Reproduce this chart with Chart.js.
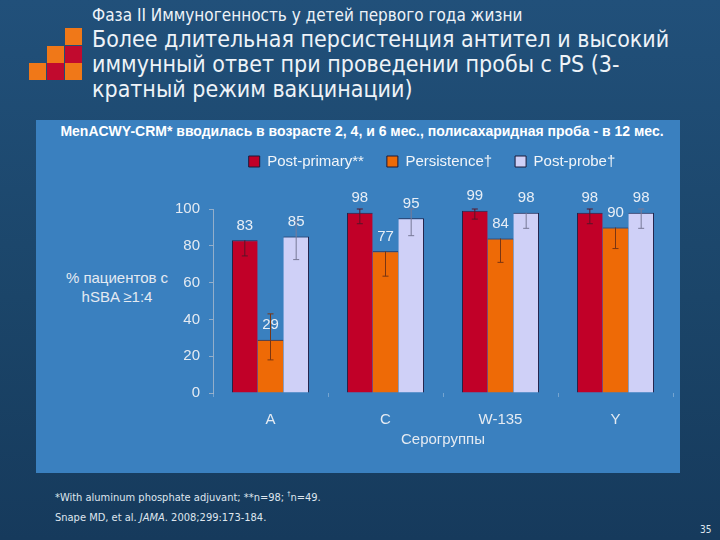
<!DOCTYPE html>
<html lang="ru">
<head>
    <meta charset="UTF-8">
    <title>Иммуногенность у детей первого года жизни</title>
    <style>
        html, body {
            margin: 0;
            padding: 0;
        }
        body {
            width: 720px;
            height: 540px;
            overflow: hidden;
            position: relative;
            background: linear-gradient(to bottom, #21507a 0%, #1b4569 55%, #163a5c 100%);
            font-family: Arial, "Liberation Sans", sans-serif;
            color: #f2f5f9;
        }
        .sq {
            position: absolute;
            width: 17px;
            height: 17px;
        }
        .or { background-color: #f07818; }
        .rd { background-color: #c10a2e; }
        .head {
            position: absolute;
            left: 92px;
            font-family: "DejaVu Sans Condensed", "DejaVu Sans", sans-serif;
            color: #eef3f8;
            white-space: nowrap;
        }
        .sub {
            top: 5px;
            font-size: 17px;
        }
        .main {
            top: 27px;
            font-size: 23px;
            line-height: 25px;
        }
        .panel {
            position: absolute;
            left: 36px;
            top: 120px;
            width: 644px;
            height: 353px;
            background-color: #3a80bf;
        }
        .ptitle {
            position: absolute;
            left: 36px;
            width: 652px;
            top: 123px;
            text-align: center;
            font-weight: bold;
            font-size: 14px;
            color: #ffffff;
        }
        .ytitle {
            position: absolute;
            left: 52px;
            width: 130px;
            top: 268px;
            text-align: center;
            font-size: 15px;
            line-height: 19px;
            color: #e4eaf2;
        }
        #wrap {
            position: absolute;
            left: 144px;
            top: 131px;
            width: 576px;
            height: 322px;
        }
        .notes {
            position: absolute;
            left: 55px;
            font-family: "DejaVu Sans Condensed", "DejaVu Sans", sans-serif;
            font-size: 11px;
            color: #dfe6ee;
        }
        .notes sup {
            font-size: 7px;
        }
        .pnum {
            position: absolute;
            left: 700px;
            top: 524px;
            font-family: "DejaVu Sans Condensed", "DejaVu Sans", sans-serif;
            font-size: 10px;
            color: #dfe6ee;
        }
    </style>
</head>
<body>
    <div class="sq or" style="left:65px;top:28px"></div>
    <div class="sq or" style="left:47px;top:46px"></div>
    <div class="sq rd" style="left:65px;top:46px"></div>
    <div class="sq or" style="left:29px;top:63px"></div>
    <div class="sq rd" style="left:47px;top:63px"></div>
    <div class="sq or" style="left:65px;top:63px"></div>

    <div class="head sub">Фаза II Иммуногенность у детей первого года жизни</div>
    <div class="head main">Более длительная персистенция антител и высокий<br>иммунный ответ при проведении пробы с PS (3-<br>кратный режим вакцинации)</div>

    <div class="panel"></div>
    <div class="ptitle">MenACWY-CRM* вводилась в возрасте 2, 4, и 6 мес., полисахаридная проба - в 12 мес.</div>
    <div class="ytitle">% пациентов с<br>hSBA ≥1:4</div>
    <div id="wrap"><canvas id="chart"></canvas></div>

    <div class="notes" style="top:490px">*With aluminum phosphate adjuvant; **n=98; <sup>†</sup>n=49.</div>
    <div class="notes" style="top:511px">Snape MD, et al. <i>JAMA</i>. 2008;299:173-184.</div>
    <div class="pnum">35</div>

    <script src="https://cdn.jsdelivr.net/npm/chart.js"></script>
    <script>
        // values
        const groups = ['A', 'C', 'W-135', 'Y'];
        const postPrimary = [83, 98, 99, 98];
        const persistence = [29, 77, 84, 90];
        const postProbe = [85, 95, 98, 98];

        // 95% CI ends (upper = value where no whisker shows above the bar)
        const postPrimaryLow = [74.5, 92, 94.5, 92];
        const postPrimaryHigh = [83, 100, 100, 100];
        const persistenceLow = [18, 63.5, 71, 78.5];
        const persistenceHigh = [43, 77, 84, 90];
        const postProbeLow = [72.5, 85.5, 89.5, 89.5];
        const postProbeHigh = [93.5, 100, 98, 100];

        const yTicks = [0, 20, 40, 60, 80, 100];

        const textColor = '#e4eaf2';
        const edge = '#22224a';

        // whiskers drawn through the y scale
        const errorBars = {
            id: 'errorBars',
            afterDatasetsDraw(chart) {
                const ctx = chart.ctx;
                const y = chart.scales.y;
                chart.data.datasets.forEach((ds, di) => {
                    const meta = chart.getDatasetMeta(di);
                    meta.data.forEach((bar, i) => {
                        const top = y.getPixelForValue(ds.errHigh[i]);
                        const bottom = y.getPixelForValue(ds.errLow[i]);
                        ctx.save();
                        ctx.strokeStyle = ds.errColor;
                        ctx.lineWidth = 1;
                        ctx.beginPath();
                        ctx.moveTo(bar.x, top);
                        ctx.lineTo(bar.x, bottom);
                        ctx.moveTo(bar.x - 3, bottom);
                        ctx.lineTo(bar.x + 3, bottom);
                        if (ds.errHigh[i] > ds.data[i]) {
                            ctx.moveTo(bar.x - 3, top);
                            ctx.lineTo(bar.x + 3, top);
                        }
                        ctx.stroke();
                        ctx.restore();
                    });
                });
            }
        };

        // value labels over the bars
        const valueLabels = {
            id: 'valueLabels',
            afterDatasetsDraw(chart) {
                const ctx = chart.ctx;
                ctx.save();
                ctx.font = '15px Arial';
                ctx.fillStyle = '#e8eef6';
                ctx.textAlign = 'center';
                ctx.textBaseline = 'middle';
                chart.data.datasets.forEach((ds, di) => {
                    chart.getDatasetMeta(di).data.forEach((bar, i) => {
                        ctx.fillText(ds.data[i], bar.x, bar.y - 14.5);
                    });
                });
                ctx.restore();
            }
        };

        // extra gap under the legend
        const legendGap = {
            id: 'legendGap',
            beforeInit(chart) {
                const fit = chart.legend.fit;
                chart.legend.fit = function () {
                    fit.call(this);
                    this.height += 30;
                };
            }
        };

        new Chart(document.getElementById('chart'), {
            type: 'bar',
            data: {
                labels: groups,
                datasets: [{
                    label: 'Post-primary**',
                    data: postPrimary,
                    errLow: postPrimaryLow,
                    errHigh: postPrimaryHigh,
                    errColor: '#5a1428',
                    backgroundColor: '#c10028',
                    borderColor: edge,
                    borderWidth: { top: 1, left: 1, right: 0, bottom: 0 }
                }, {
                    label: 'Persistence†',
                    data: persistence,
                    errLow: persistenceLow,
                    errHigh: persistenceHigh,
                    errColor: '#7a3512',
                    backgroundColor: '#ee6a06',
                    borderColor: edge,
                    borderWidth: { top: 1, left: 0, right: 0, bottom: 0 }
                }, {
                    label: 'Post-probe†',
                    data: postProbe,
                    errLow: postProbeLow,
                    errHigh: postProbeHigh,
                    errColor: '#777896',
                    backgroundColor: '#cfd0f7',
                    borderColor: edge,
                    borderWidth: { top: 1, left: 0, right: 1, bottom: 0 }
                }]
            },
            options: {
                responsive: true,
                maintainAspectRatio: false,
                animation: false,
                layout: { padding: 0 },
                datasets: {
                    bar: {
                        categoryPercentage: 0.67,
                        barPercentage: 1.0
                    }
                },
                plugins: {
                    legend: {
                        position: 'top',
                        labels: {
                            color: '#f2f5f9',
                            font: { family: 'Arial', size: 15 },
                            boxWidth: 11,
                            boxHeight: 11,
                            padding: 23,
                            generateLabels(chart) {
                                const items = Chart.defaults.plugins.legend.labels.generateLabels(chart);
                                items.forEach(it => {
                                    it.lineWidth = 1;
                                    it.strokeStyle = '#1a1a3a';
                                });
                                return items;
                            }
                        }
                    },
                    tooltip: { enabled: false }
                },
                scales: {
                    x: {
                        grid: {
                            display: true,
                            drawOnChartArea: false,
                            tickLength: 4,
                            color: 'rgba(225, 232, 242, 0.35)'
                        },
                        border: { display: false },
                        ticks: {
                            color: textColor,
                            font: { family: 'Arial', size: 15 },
                            padding: 14
                        },
                        title: {
                            display: true,
                            text: 'Серогруппы',
                            color: textColor,
                            font: { family: 'Arial', size: 15 },
                            padding: { top: 2, bottom: 4 }
                        },
                        afterFit(s) { s.height = 60; }
                    },
                    y: {
                        min: yTicks[0],
                        max: yTicks[yTicks.length - 1],
                        afterBuildTicks(s) {
                            s.ticks = yTicks.map(v => ({ value: v }));
                        },
                        grid: {
                            display: true,
                            drawOnChartArea: false,
                            tickLength: 4,
                            color: 'rgba(170, 185, 205, 0.8)'
                        },
                        border: { display: true, color: 'rgba(170, 185, 205, 0.8)', width: 1 },
                        ticks: {
                            color: textColor,
                            font: { family: 'Arial', size: 15 },
                            padding: 9
                        },
                        afterFit(s) { s.width = 69; }
                    },
                    // empty right-hand spacer so the plot ends where the slide's does
                    spacer: {
                        type: 'linear',
                        position: 'right',
                        display: true,
                        grid: { display: false },
                        border: { display: false },
                        ticks: { display: false },
                        afterFit(s) { s.width = 47; }
                    }
                }
            },
            plugins: [errorBars, valueLabels, legendGap]
        });
    </script>
</body>
</html>
